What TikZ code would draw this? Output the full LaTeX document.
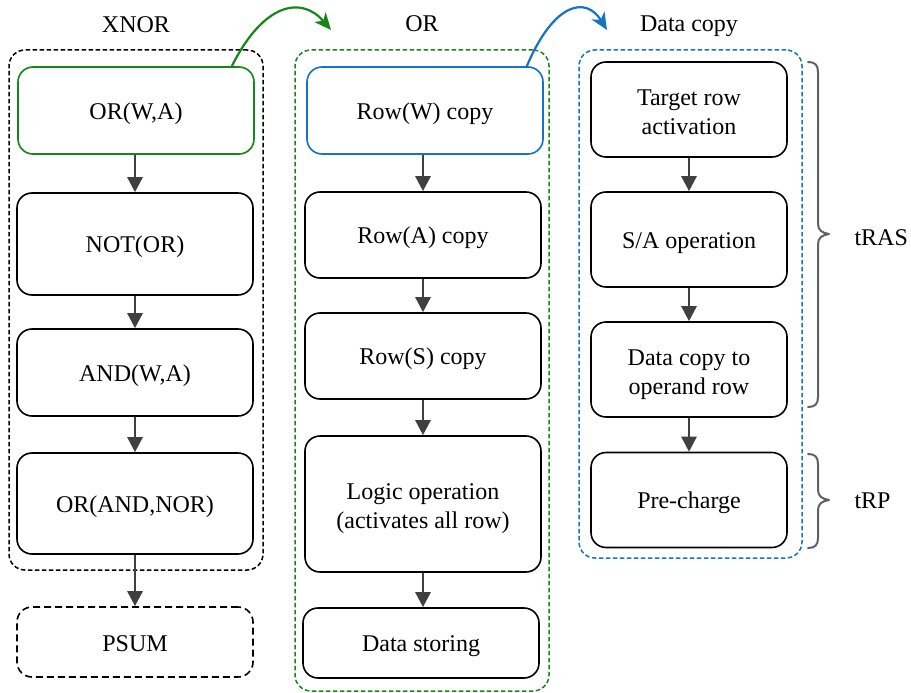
\documentclass[tikz,border=0pt]{standalone}
\usepackage{fontspec}
\setmainfont{Liberation Serif}
\usetikzlibrary{arrows.meta}

\definecolor{flowgreen}{RGB}{22,135,22}
\definecolor{flowblue}{RGB}{20,115,195}
\definecolor{arrowgray}{RGB}{64,64,64}
\definecolor{bracegray}{RGB}{96,96,96}

% struts that keep every step label at the same vertical offset
\newcommand{\steplift}{\rule[-5pt]{0pt}{28pt}}
\newcommand{\toplift}{\rule{0pt}{26pt}}

\tikzset{
  stepbox/.style={draw=black, line width=1.6pt, rounded corners=15pt, fill=white,
    align=center, inner sep=0pt, font=\fontsize{24}{29}\selectfont,
    execute at begin node=\steplift},
  twoline/.style={execute at begin node={}},
  groupbox/.style={draw, line width=1.5pt, dash pattern=on 4.5pt off 2.5pt,
    rounded corners=16pt, inner sep=0pt},
  title/.style={font=\fontsize{24}{29}\selectfont, anchor=base},
  flow/.style={draw=arrowgray, line width=2.6pt,
    -{Triangle[length=15pt,width=15pt]}},
  jump/.style={line width=2.2pt, -{Stealth[length=17pt,width=15pt,inset=5pt]}},
  brace/.style={draw=bracegray, line width=2pt, line cap=round, line join=round},
}

\begin{document}
\begin{tikzpicture}[x=1pt, y=-1pt]
\useasboundingbox (0,0) rectangle (911,693);

% group frames
\node[groupbox, draw=black, minimum width=254pt, minimum height=520pt] (gx) at (136,310) {};
\node[groupbox, draw=flowgreen, minimum width=254pt, minimum height=641pt] (go) at (422,370.5) {};
\node[groupbox, draw=flowblue, minimum width=223pt, minimum height=508pt] (gd) at (690.5,304) {};

% group titles
\node[title] (tx) at (136,33) {XNOR};
\node[title] (to) at (422,32) {OR};
\node[title] (td) at (689,32) {Data copy};

% XNOR steps
\node[stepbox, draw=flowgreen, minimum width=236pt, minimum height=87pt] (a1) at (136,110.5) {OR(W,A)};
\node[stepbox, minimum width=236pt, minimum height=102pt] (a2) at (135,244) {NOT(OR)};
\node[stepbox, minimum width=236pt, minimum height=87pt] (a3) at (135,372.5) {AND(W,A)};
\node[stepbox, minimum width=236pt, minimum height=101pt] (a4) at (135,503.5) {OR(AND,NOR)};
\node[stepbox, dash pattern=on 7pt off 4pt, minimum width=236pt, minimum height=70pt] (a5) at (135,642) {PSUM};

% OR steps
\node[stepbox, draw=flowblue, minimum width=236pt, minimum height=87pt] (b1) at (425,110.5) {Row(W) copy};
\node[stepbox, minimum width=236pt, minimum height=86pt] (b2) at (423,235) {Row(A) copy};
\node[stepbox, minimum width=236pt, minimum height=86pt] (b3) at (423,356) {Row(S) copy};
\node[stepbox, twoline, minimum width=236pt, minimum height=136pt] (b4) at (423,504) {\toplift Logic operation\\(activates all row)};
\node[stepbox, minimum width=236pt, minimum height=70pt] (b5) at (421,643) {Data storing};

% Data copy steps
\node[stepbox, twoline, minimum width=196pt, minimum height=95pt] (c1) at (689,109.5) {\toplift Target row\\activation};
\node[stepbox, minimum width=196pt, minimum height=95pt] (c2) at (689,239.5) {S/A operation};
\node[stepbox, twoline, minimum width=196pt, minimum height=95pt] (c3) at (689,369.5) {\toplift Data copy to\\operand row};
\node[stepbox, minimum width=196pt, minimum height=95pt] (c4) at (689,500) {Pre-charge};

% sequence arrows
\draw[flow] (a1.south -| a2.north) -- (a2.north);
\draw[flow] (a2) -- (a3);
\draw[flow] (a3) -- (a4);
\draw[flow] (a4) -- (a5);
\draw[flow] (b1.south -| b2.north) -- (b2.north);
\draw[flow] (b2) -- (b3);
\draw[flow] (b3) -- (b4);
\draw[flow] (b4.south) -- (b4.south |- b5.north);
\draw[flow] (c1) -- (c2);
\draw[flow] (c2) -- (c3);
\draw[flow] (c3) -- (c4);

% expansion arrows into the next group
\coordinate (gtip) at (331,30);
\coordinate (btip) at (607,30);
\draw[jump, flowgreen] ([xshift=-23pt]a1.north east) .. controls (264,2) and (302,-4) .. (gtip);
\draw[jump, flowblue] ([xshift=-17pt]b1.north east) .. controls (554,2) and (586,-4) .. (btip);

% timing braces
\path[brace] (808,62) .. controls (815,62) and (818,65) .. (818,72)
  -- (818,224) .. controls (818,230) and (822,233) .. (829,234)
  .. controls (822,235) and (818,238) .. (818,244)
  -- (818,397) .. controls (818,404) and (815,407) .. (808,407);
\path[brace] (808,454) .. controls (815,454) and (818,457) .. (818,464)
  -- (818,490) .. controls (818,496) and (822,499) .. (829,500)
  .. controls (822,501) and (818,504) .. (818,510)
  -- (818,538) .. controls (818,545) and (815,548) .. (808,548);
\node[title, anchor=base west] (tras) at (851,245) {tRAS};
\node[title, anchor=base west] (trp) at (851,508) {tRP};
\end{tikzpicture}
\end{document}
